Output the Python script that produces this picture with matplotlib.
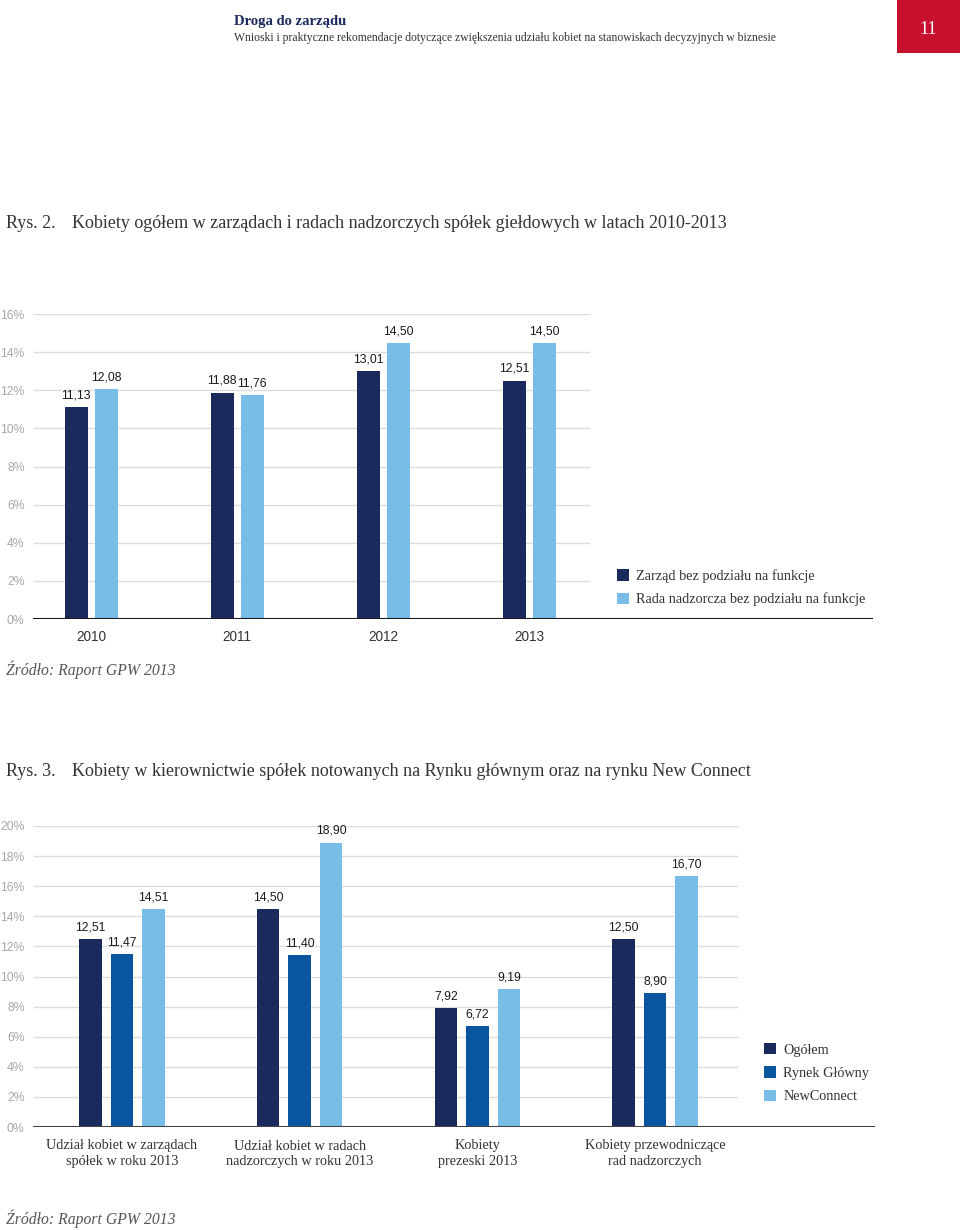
import matplotlib
matplotlib.use("Agg")
import matplotlib.pyplot as plt
from matplotlib.patches import Rectangle

# ---------------- data ----------------
years = ["2010", "2011", "2012", "2013"]
zarzad = [11.13, 11.88, 13.01, 12.51]
rada = [12.08, 11.76, 14.50, 14.50]
series1_names = ["Zarząd bez podziału na funkcje", "Rada nadzorcza bez podziału na funkcje"]

categories2 = ["Udział kobiet w zarządach\nspółek w roku 2013",
               "Udział kobiet w radach\nnadzorczych w roku 2013",
               "Kobiety\nprezeski 2013",
               "Kobiety przewodniczące\nrad nadzorczych"]
ogolem = [12.51, 14.50, 7.92, 12.50]
rynek_glowny = [11.47, 11.40, 6.72, 8.90]
newconnect = [14.51, 18.90, 9.19, 16.70]
series2_names = ["Ogółem", "Rynek Główny", "NewConnect"]

yticks1 = [0, 2, 4, 6, 8, 10, 12, 14, 16]
yticks2 = [0, 2, 4, 6, 8, 10, 12, 14, 16, 18, 20]

# ---------------- style ----------------
NAVY = "#1B2A5C"
MID = "#0A559F"
LIGHT = "#77BDE7"
GRID = "#DCDCDC"
TICK = "#A8A8A8"
TXT = "#333333"
SERIF = ["Liberation Serif", "DejaVu Serif"]
SANS = ["Liberation Sans", "DejaVu Sans"]

W, H = 960, 1230
fig = plt.figure(figsize=(W / 100, H / 100), dpi=100)


def fx(px):
    return px / W


def fy(py):
    return 1 - py / H


def axes_px(left, top, right, bottom):
    return fig.add_axes([fx(left), fy(bottom), (right - left) / W, (bottom - top) / H])


def fmt(v):
    return f"{v:.2f}".replace(".", ",")


# ---------------- header ----------------
fig.text(fx(234), fy(22), "Droga do zarządu", fontsize=10.5, fontweight="bold",
         color=NAVY, family=SERIF, va="center", ha="left")
fig.text(fx(234), fy(38), "Wnioski i praktyczne rekomendacje dotyczące zwiększenia udziału kobiet "
         "na stanowiskach decyzyjnych w biznesie", fontsize=8.4, color=TXT,
         family=SERIF, va="center", ha="left")
fig.patches.append(Rectangle((fx(897), fy(53)), fx(63), 53 / H, transform=fig.transFigure,
                             facecolor="#C8102E", edgecolor="none"))
fig.text(fx(928), fy(30), "11", fontsize=13, color="white", family=SERIF,
         va="center", ha="center")

# ---------------- chart 1 ----------------
fig.text(fx(6), fy(224), "Rys. 2.", fontsize=13, color=TXT, family=SERIF, va="center")
fig.text(fx(72), fy(224), "Kobiety ogółem w zarządach i radach nadzorczych spółek giełdowych "
         "w latach 2010-2013", fontsize=13.0, color=TXT, family=SERIF, va="center")

ax1 = axes_px(33, 314, 873, 619)
gs1 = 146.0
bw1 = 23 / gs1
off1 = 15 / gs1
x1 = list(range(len(years)))
ax1.set_xlim((33 - 91) / gs1, (873 - 91) / gs1)
ax1.set_ylim(0, 16)
ax1.hlines(yticks1[1:], (33 - 91) / gs1, (590 - 91) / gs1, color=GRID, lw=1, zorder=0)
ax1.axhline(0, color="#1a1a1a", lw=1.5, zorder=3)
b1 = ax1.bar([x - off1 for x in x1], zarzad, width=bw1, color=NAVY, label=series1_names[0], zorder=2)
b2 = ax1.bar([x + off1 for x in x1], rada, width=bw1, color=LIGHT, label=series1_names[1], zorder=2)
for bars, vals in ((b1, zarzad), (b2, rada)):
    for r, v in zip(bars, vals):
        ax1.annotate(fmt(v), (r.get_x() + r.get_width() / 2, v), xytext=(0, 4),
                     textcoords="offset points", ha="center", va="bottom",
                     fontsize=8.8, color="#1a1a1a", family=SANS)
ax1.set_yticks(yticks1)
ax1.set_yticklabels([f"{t}%" for t in yticks1], fontsize=8.8, color=TICK, family=SANS)
ax1.set_xticks(x1)
ax1.set_xticklabels(years, fontsize=9.8, color=TXT, family=SANS)
ax1.tick_params(axis="both", length=0)
ax1.tick_params(axis="y", pad=6)
ax1.tick_params(axis="x", pad=8)
for s in ax1.spines.values():
    s.set_visible(False)
ax1.patch.set_alpha(0)
ax1.legend(handles=[b1, b2], loc="upper left", bbox_to_anchor=(fx(617), fy(569)),
           bbox_transform=fig.transFigure, frameon=False, borderpad=0, borderaxespad=0,
           handlelength=0.85, handleheight=0.85, handletextpad=0.5, labelspacing=0.68,
           prop={"family": SERIF, "size": 10.3}, labelcolor=TXT)

fig.text(fx(6), fy(670), "Źródło: Raport GPW 2013", fontsize=11.3, style="italic",
         color="#555555", family=SERIF, va="center")

# ---------------- chart 2 ----------------
fig.text(fx(6), fy(771), "Rys. 3.", fontsize=13, color=TXT, family=SERIF, va="center")
fig.text(fx(72), fy(771), "Kobiety w kierownictwie spółek notowanych na Rynku głównym oraz "
         "na rynku New Connect", fontsize=13.0, color=TXT, family=SERIF, va="center")

ax2 = axes_px(33, 826, 875, 1127)
gs2 = 177.7
bw2 = 22.5 / gs2
off2 = 31.5 / gs2
x2 = list(range(len(categories2)))
ax2.set_xlim((33 - 122) / gs2, (875 - 122) / gs2)
ax2.set_ylim(0, 20)
ax2.hlines(yticks2[1:], (33 - 122) / gs2, (738 - 122) / gs2, color=GRID, lw=1, zorder=0)
ax2.axhline(0, color="#444444", lw=1.5, zorder=3)
c1 = ax2.bar([x - off2 for x in x2], ogolem, width=bw2, color=NAVY, label=series2_names[0], zorder=2)
c2 = ax2.bar(x2, rynek_glowny, width=bw2, color=MID, label=series2_names[1], zorder=2)
c3 = ax2.bar([x + off2 for x in x2], newconnect, width=bw2, color=LIGHT, label=series2_names[2], zorder=2)
for bars, vals in ((c1, ogolem), (c2, rynek_glowny), (c3, newconnect)):
    for r, v in zip(bars, vals):
        ax2.annotate(fmt(v), (r.get_x() + r.get_width() / 2, v), xytext=(0, 4),
                     textcoords="offset points", ha="center", va="bottom",
                     fontsize=8.8, color="#1a1a1a", family=SANS)
ax2.set_yticks(yticks2)
ax2.set_yticklabels([f"{t}%" for t in yticks2], fontsize=8.8, color=TICK, family=SANS)
ax2.set_xticks(x2)
ax2.set_xticklabels(categories2, fontsize=10.3, color=TXT, family=SERIF, linespacing=1.3)
ax2.tick_params(axis="both", length=0)
ax2.tick_params(axis="y", pad=6)
ax2.tick_params(axis="x", pad=9)
for s in ax2.spines.values():
    s.set_visible(False)
ax2.patch.set_alpha(0)
ax2.legend(handles=[c1, c2, c3], loc="upper left", bbox_to_anchor=(fx(764), fy(1043)),
           bbox_transform=fig.transFigure, frameon=False, borderpad=0, borderaxespad=0,
           handlelength=0.85, handleheight=0.85, handletextpad=0.5, labelspacing=0.68,
           prop={"family": SERIF, "size": 10.3}, labelcolor=TXT)

fig.text(fx(6), fy(1219), "Źródło: Raport GPW 2013", fontsize=11.3, style="italic",
         color="#555555", family=SERIF, va="center")

fig.savefig("out.png", dpi=100, facecolor="white")
